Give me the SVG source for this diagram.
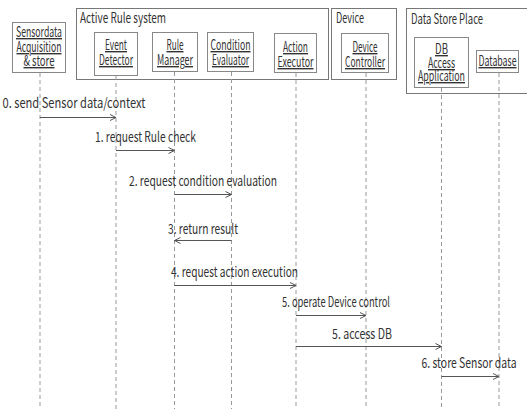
<svg xmlns="http://www.w3.org/2000/svg" width="527" height="411" viewBox="0 0 527 411">
  <defs>
    <marker id="arrow" viewBox="0 0 8 8" refX="7" refY="4" markerWidth="8" markerHeight="8" markerUnits="userSpaceOnUse" orient="auto">
      <path d="M1,1 L7,4 L1,7" fill="none" stroke="#555" stroke-width="1"/>
    </marker>
    <style>
      text { font-family: "Noto Sans CJK KR", "Noto Sans", sans-serif; fill: #333; }
      .title { font-size: 14px; }
      .lbl { font-size: 14px; text-anchor: middle; text-decoration: underline; }
      .msg { font-size: 14px; text-anchor: middle; }
      .group { fill: #fff; stroke: #777; stroke-width: 1; }
      .node { fill: #fff; stroke: #888; stroke-width: 1; }
      .life { stroke: #999; stroke-width: 1; stroke-dasharray: 4 3; fill: none; }
      .call { stroke: #555; stroke-width: 1; fill: none; marker-end: url(#arrow); }
    </style>
  </defs>

  <!-- containers -->
  <g id="active-rule-system">
    <rect class="group" x="76.5" y="8.5" width="252" height="71"/>
    <text class="title" x="80" y="23" textLength="86" lengthAdjust="spacingAndGlyphs">Active Rule system</text>
  </g>
  <g id="device">
    <rect class="group" x="331.5" y="8.5" width="65" height="71"/>
    <text class="title" x="336" y="23" textLength="28" lengthAdjust="spacingAndGlyphs">Device</text>
  </g>
  <g id="data-store-place">
    <rect class="group" x="406.5" y="8.5" width="130" height="85"/>
    <text class="title" x="411" y="24" textLength="72" lengthAdjust="spacingAndGlyphs">Data Store Place</text>
  </g>

  <!-- lifelines -->
  <g id="lifelines">
    <line class="life" x1="40" y1="73" x2="40" y2="409"/>
    <line class="life" x1="116" y1="76" x2="116" y2="409"/>
    <line class="life" x1="174.5" y1="72" x2="174.5" y2="409"/>
    <line class="life" x1="231.5" y1="72" x2="231.5" y2="409"/>
    <line class="life" x1="296" y1="73" x2="296" y2="409"/>
    <line class="life" x1="366" y1="73" x2="366" y2="409"/>
    <line class="life" x1="441.5" y1="88" x2="441.5" y2="409"/>
    <line class="life" x1="499" y1="73" x2="499" y2="409"/>
  </g>

  <!-- participants -->
  <g id="sensordata-acquisition">
    <rect class="node" x="12.5" y="22.5" width="53" height="50"/>
    <text class="lbl" x="39" y="37" textLength="46" lengthAdjust="spacingAndGlyphs">Sensordata</text>
    <text class="lbl" x="39" y="52" textLength="45" lengthAdjust="spacingAndGlyphs">Acquisition</text>
    <text class="lbl" x="39" y="66" textLength="31" lengthAdjust="spacingAndGlyphs">&amp; store</text>
  </g>
  <g id="event-detector">
    <rect class="node" x="94.5" y="32.5" width="43" height="43"/>
    <text class="lbl" x="116" y="50" textLength="22" lengthAdjust="spacingAndGlyphs">Event</text>
    <text class="lbl" x="116" y="65" textLength="34" lengthAdjust="spacingAndGlyphs">Detector</text>
  </g>
  <g id="rule-manager">
    <rect class="node" x="152.5" y="32.5" width="45" height="39"/>
    <text class="lbl" x="175" y="50" textLength="17" lengthAdjust="spacingAndGlyphs">Rule</text>
    <text class="lbl" x="175" y="65" textLength="36" lengthAdjust="spacingAndGlyphs">Manager</text>
  </g>
  <g id="condition-evaluator">
    <rect class="node" x="207.5" y="32.5" width="46" height="39"/>
    <text class="lbl" x="230.5" y="50" textLength="40" lengthAdjust="spacingAndGlyphs">Condition</text>
    <text class="lbl" x="230.5" y="65" textLength="37" lengthAdjust="spacingAndGlyphs">Evaluator</text>
  </g>
  <g id="action-executor">
    <rect class="node" x="274.5" y="33.5" width="42" height="39"/>
    <text class="lbl" x="295.5" y="52" textLength="25" lengthAdjust="spacingAndGlyphs">Action</text>
    <text class="lbl" x="295.5" y="67" textLength="36" lengthAdjust="spacingAndGlyphs">Executor</text>
  </g>
  <g id="device-controller">
    <rect class="node" x="341.5" y="33.5" width="47" height="39"/>
    <text class="lbl" x="365" y="52" textLength="25" lengthAdjust="spacingAndGlyphs">Device</text>
    <text class="lbl" x="365" y="67" textLength="40" lengthAdjust="spacingAndGlyphs">Controller</text>
  </g>
  <g id="db-access-application">
    <rect class="node" x="414.5" y="37.5" width="54" height="50"/>
    <text class="lbl" x="441.5" y="54" textLength="13" lengthAdjust="spacingAndGlyphs">DB</text>
    <text class="lbl" x="441.5" y="68" textLength="27" lengthAdjust="spacingAndGlyphs">Access</text>
    <text class="lbl" x="441.5" y="81" textLength="47" lengthAdjust="spacingAndGlyphs">Application</text>
  </g>
  <g id="database">
    <rect class="node" x="476.5" y="50.5" width="42" height="22"/>
    <text class="lbl" x="497.5" y="66" textLength="38" lengthAdjust="spacingAndGlyphs">Database</text>
  </g>

  <!-- messages -->
  <g id="connectors">
    <line class="call" x1="40" y1="117.5" x2="116" y2="117.5"/>
    <text class="msg" x="74" y="108" textLength="143" lengthAdjust="spacingAndGlyphs">0. send Sensor data/context</text>

    <line class="call" x1="116" y1="150.5" x2="174.5" y2="150.5"/>
    <text class="msg" x="145.5" y="142" textLength="101" lengthAdjust="spacingAndGlyphs">1. request Rule check</text>

    <line class="call" x1="174.5" y1="194.5" x2="231.5" y2="194.5"/>
    <text class="msg" x="203" y="186" textLength="148" lengthAdjust="spacingAndGlyphs">2. request condition evaluation</text>

    <line class="call" x1="231.5" y1="240.5" x2="174.5" y2="240.5"/>
    <text class="msg" x="203" y="234" textLength="70" lengthAdjust="spacingAndGlyphs">3. return result</text>

    <line class="call" x1="174.5" y1="285.5" x2="296" y2="285.5"/>
    <text class="msg" x="234.5" y="277" textLength="127" lengthAdjust="spacingAndGlyphs">4. request action execution</text>

    <line class="call" x1="296" y1="315.5" x2="366" y2="315.5"/>
    <text class="msg" x="336" y="307" textLength="108" lengthAdjust="spacingAndGlyphs">5. operate Device control</text>

    <line class="call" x1="296" y1="346.5" x2="441.5" y2="346.5"/>
    <text class="msg" x="362" y="339" textLength="60" lengthAdjust="spacingAndGlyphs">5. access DB</text>

    <line class="call" x1="441.5" y1="376.5" x2="499" y2="376.5"/>
    <text class="msg" x="469" y="368" textLength="95" lengthAdjust="spacingAndGlyphs">6. store Sensor data</text>
  </g>
</svg>
